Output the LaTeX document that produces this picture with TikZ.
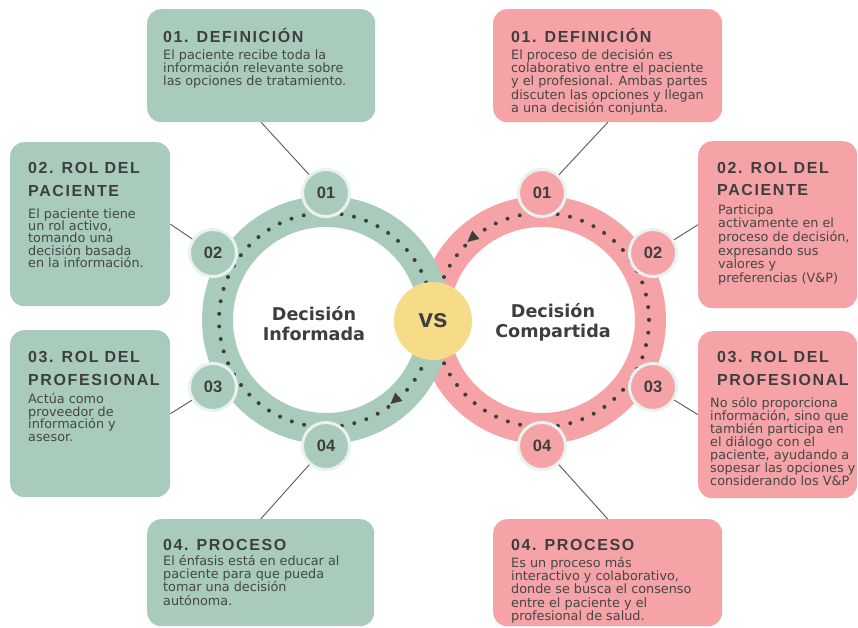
\documentclass[tikz,border=0pt]{standalone}
\usepackage{fontspec}
\setmainfont{DejaVu Sans}
\newfontfamily\headfont{Liberation Sans}[LetterSpace=10]
\newfontfamily\labelfont{Liberation Sans}
\newfontfamily\centerfont{DejaVu Sans}

\definecolor{sage}{HTML}{A8CBBC}
\definecolor{rose}{HTML}{F5A3A6}
\definecolor{butter}{HTML}{F6DC88}
\definecolor{ink}{HTML}{3E3E3E}
\definecolor{bodyink}{HTML}{464646}
\definecolor{rim}{HTML}{E8F2F0}
\definecolor{wirecol}{HTML}{5A5A5A}

\newcommand\headstrut{\rule{0pt}{14pt}}
\newcommand\bodystrut{\rule{0pt}{11pt}}
\setlength{\lineskiplimit}{-20pt}

\tikzset{
  panel/.style={rounded corners=14pt, inner sep=0pt, anchor=north west},
  headtxt/.style={anchor=north west, inner sep=0pt, align=left, text=ink,
    font=\headfont\bfseries\fontsize{16}{23.5}\selectfont},
  bodytxt/.style={anchor=north west, inner sep=0pt, align=left, text=bodyink,
    font=\fontsize{12.8}{13.3}\selectfont},
  badge/.style={circle, draw=rim, line width=3pt, minimum size=47pt, inner sep=0pt,
    text=ink, font=\labelfont\bfseries\fontsize{16.5}{16.5}\selectfont},
  wire/.style={draw=wirecol, line width=0.9pt},
  ring/.style={line width=31pt},
  dotring/.style={draw=ink, line width=4pt, line cap=round, dash pattern=on 0pt off 12.68pt},
  centerlabel/.style={align=center, text=ink, inner sep=0pt,
    font=\centerfont\bfseries\fontsize{17.6}{20.5}\selectfont},
}

\begin{document}
\begin{tikzpicture}[x=1pt, y=-1pt]
\useasboundingbox (0,0) rectangle (858,627);
\fill[white] (0,0) rectangle (858,627);

% ---- panels ----
\node[panel, fill=sage, minimum width=228pt, minimum height=113pt] (g1) at (147,9) {};
\node[panel, fill=rose, minimum width=229pt, minimum height=113pt] (r1) at (493,9) {};
\node[panel, fill=sage, minimum width=160pt, minimum height=164pt] (g2) at (10,142) {};
\node[panel, fill=rose, minimum width=159pt, minimum height=167pt] (r2) at (698,141) {};
\node[panel, fill=sage, minimum width=160pt, minimum height=167pt] (g3) at (10,330) {};
\node[panel, fill=rose, minimum width=159pt, minimum height=167pt] (r3) at (698,331) {};
\node[panel, fill=sage, minimum width=227pt, minimum height=107pt] (g4) at (147,519) {};
\node[panel, fill=rose, minimum width=229pt, minimum height=107pt] (r4) at (493,519) {};

% ---- panel texts ----
\node[headtxt] (g1h) at (163,28) {\headstrut 01. DEFINICIÓN};
\node[bodytxt] (g1b) at (163,48) {\bodystrut El paciente recibe toda la\\información relevante sobre\\las opciones de tratamiento.};

\node[headtxt] (r1h) at (511,28) {\headstrut 01. DEFINICIÓN};
\node[bodytxt] (r1b) at (511,48) {\bodystrut El proceso de decisión es\\colaborativo entre el paciente\\y el profesional. Ambas partes\\discuten las opciones y llegan\\a una decisión conjunta.};

\node[headtxt] (g2h) at (28,159) {\headstrut 02. ROL DEL\\PACIENTE};
\node[bodytxt, font=\fontsize{12.8}{12.3}\selectfont] (g2b) at (28,207) {\bodystrut El paciente tiene\\un rol activo,\\tomando una\\decisión basada\\en la información.};

\node[headtxt, font=\headfont\bfseries\fontsize{16}{22.5}\selectfont] (r2h) at (717,159) {\headstrut 02. ROL DEL\\PACIENTE};
\node[bodytxt, font=\fontsize{12.8}{13.6}\selectfont] (r2b) at (718,203) {\bodystrut Participa\\activamente en el\\proceso de decisión,\\expresando sus\\valores y\\preferencias (V\&P)};

\node[headtxt] (g3h) at (28,348) {\headstrut 03. ROL DEL\\PROFESIONAL};
\node[bodytxt, font=\fontsize{12.8}{12.8}\selectfont] (g3b) at (28,392) {\bodystrut Actúa como\\proveedor de\\información y\\asesor.};

\node[headtxt] (r3h) at (717,348) {\headstrut 03. ROL DEL\\PROFESIONAL};
\node[bodytxt, font=\fontsize{12.8}{13}\selectfont] (r3b) at (710,396) {\bodystrut No sólo proporciona\\información, sino que\\también participa en\\el diálogo con el\\paciente, ayudando a\\sopesar las opciones y\\considerando los V\&P};

\node[headtxt] (g4h) at (163,536) {\headstrut 04. PROCESO};
\node[bodytxt] (g4b) at (163,554) {\bodystrut El énfasis está en educar al\\paciente para que pueda\\tomar una decisión\\autónoma.};

\node[headtxt] (r4h) at (511,536) {\headstrut 04. PROCESO};
\node[bodytxt] (r4b) at (511,556) {\bodystrut Es un proceso más\\interactivo y colaborativo,\\donde se busca el consenso\\entre el paciente y el\\profesional de salud.};

% ---- rings ----
\coordinate (gc) at (326,320);
\coordinate (rc) at (542,320);
\draw[ring, rose] (rc) circle (108.5);
\draw[ring, sage] (gc) circle (108.5);
\draw[dotring] (gc) circle (107);
\draw[dotring] (rc) circle (107);

% direction marks on the dotted tracks
\fill[ink] (390.5,403.9) -- (402.4,400.9) -- (395.2,392.6) -- cycle;
\fill[ink] (467.4,241.9) -- (479.4,238.9) -- (472.2,230.6) -- cycle;

% ---- centre ----
\node[circle, fill=butter, minimum size=78pt, inner sep=0pt, text=ink,
      font=\labelfont\bfseries\fontsize{26}{26}\selectfont] (vs) at (433,321) {vs};
\node[centerlabel] (gl) at (314,323.5) {Decisión\\Informada};
\node[centerlabel] (rl) at (553,322.5) {Decisión\\Compartida};

% ---- numbered badges ----
\node[badge, fill=sage] (gb1) at (326,193) {01};
\node[badge, fill=sage] (gb2) at (213,253) {02};
\node[badge, fill=sage] (gb3) at (213,387) {03};
\node[badge, fill=sage] (gb4) at (326,446) {04};
\node[badge, fill=rose] (rb1) at (542,193) {01};
\node[badge, fill=rose] (rb2) at (653,253) {02};
\node[badge, fill=rose] (rb3) at (653,387) {03};
\node[badge, fill=rose] (rb4) at (542,446) {04};

% ---- connectors ----
\draw[wire] (g1.south) -- (gb1);
\draw[wire] (r1.south) -- (rb1);
\draw[wire] (g2.east) -- (gb2);
\draw[wire] (r2.west) -- (rb2);
\draw[wire] (g3.east) -- (gb3);
\draw[wire] (r3.west) -- (rb3);
\draw[wire] (g4.north) -- (gb4);
\draw[wire] (r4.north) -- (rb4);
\end{tikzpicture}
\end{document}
